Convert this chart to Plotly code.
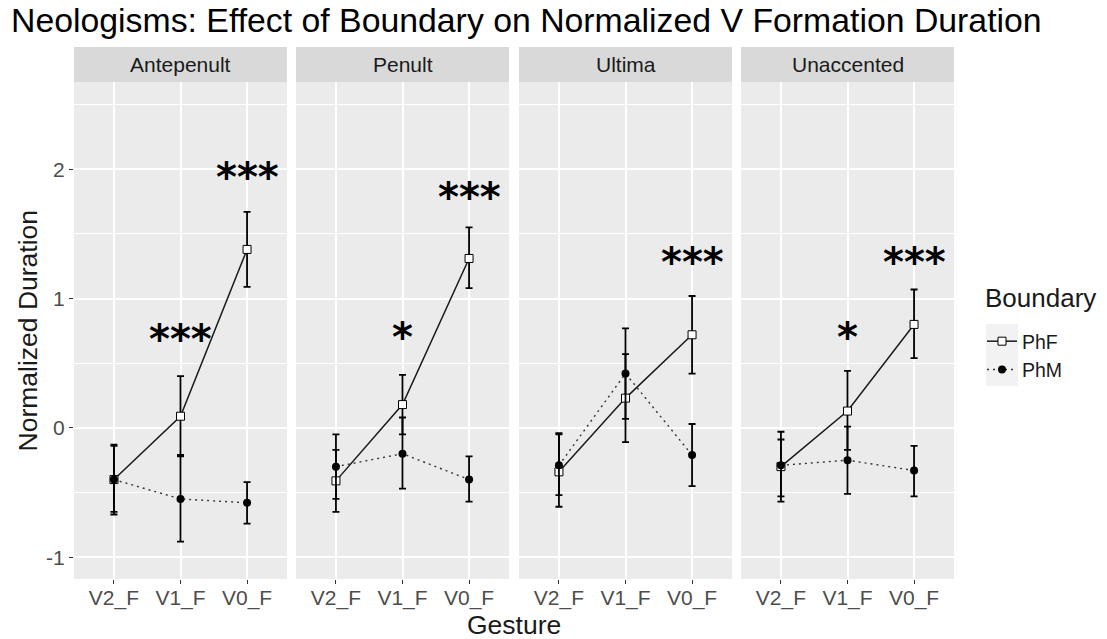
import plotly.graph_objects as go

categories = ["V2_F", "V1_F", "V0_F"]
panels = ["Antepenult", "Penult", "Ultima", "Unaccented"]

phf_mean = {
    "Antepenult": [-0.40, 0.09, 1.38],
    "Penult": [-0.41, 0.18, 1.31],
    "Ultima": [-0.34, 0.23, 0.72],
    "Unaccented": [-0.30, 0.13, 0.80],
}
phf_upper = {
    "Antepenult": [-0.13, 0.40, 1.67],
    "Penult": [-0.17, 0.41, 1.55],
    "Ultima": [-0.05, 0.57, 1.02],
    "Unaccented": [-0.03, 0.44, 1.07],
}
phf_lower = {
    "Antepenult": [-0.67, -0.21, 1.09],
    "Penult": [-0.65, -0.05, 1.08],
    "Ultima": [-0.61, -0.11, 0.42],
    "Unaccented": [-0.57, -0.17, 0.54],
}
phm_mean = {
    "Antepenult": [-0.40, -0.55, -0.58],
    "Penult": [-0.30, -0.20, -0.40],
    "Ultima": [-0.29, 0.42, -0.21],
    "Unaccented": [-0.29, -0.25, -0.33],
}
phm_upper = {
    "Antepenult": [-0.14, -0.22, -0.42],
    "Penult": [-0.05, 0.08, -0.22],
    "Ultima": [-0.04, 0.77, 0.03],
    "Unaccented": [-0.09, 0.01, -0.14],
}
phm_lower = {
    "Antepenult": [-0.65, -0.88, -0.74],
    "Penult": [-0.55, -0.47, -0.57],
    "Ultima": [-0.52, 0.07, -0.45],
    "Unaccented": [-0.53, -0.51, -0.53],
}
# significance labels: (panel, category, label, y)
stars = [
    ("Antepenult", "V1_F", "***", 0.73),
    ("Antepenult", "V0_F", "***", 1.99),
    ("Penult", "V1_F", "*", 0.75),
    ("Penult", "V0_F", "***", 1.83),
    ("Ultima", "V0_F", "***", 1.33),
    ("Unaccented", "V1_F", "*", 0.75),
    ("Unaccented", "V0_F", "***", 1.33),
]
y_ticks = [-1, 0, 1, 2]

FONT = "Liberation Sans, Arial, Helvetica, sans-serif"
STAR_FONT = "DejaVu Sans, Liberation Sans, sans-serif"
W, H = 1107, 639
ML, MR, MT, MB = 74, 153, 47, 60
PW = W - ML - MR
PH = H - MT - MB
panel_px = [(74, 287), (296, 509), (519, 732), (741, 954)]
panel_bottom_px, panel_top_px = 579, 82


def px_x(x):
    return (x - ML) / PW


def px_y(y):
    return (H - MB - y) / PH


fig = go.Figure()


def diff(a, b):
    return [round(x - y, 4) for x, y in zip(a, b)]


for i, p in enumerate(panels):
    xa = "x" if i == 0 else f"x{i+1}"
    ya = "y" if i == 0 else f"y{i+1}"
    fig.add_trace(go.Scatter(
        x=categories, y=phf_mean[p], xaxis=xa, yaxis=ya,
        mode="lines+markers", name="PhF", legendgroup="PhF",
        showlegend=(i == 0),
        line=dict(color="#1a1a1a", width=1.5, dash="solid"),
        marker=dict(symbol="square", size=8, color="white",
                    line=dict(color="black", width=1)),
        error_y=dict(type="data", symmetric=False,
                     array=diff(phf_upper[p], phf_mean[p]),
                     arrayminus=diff(phf_mean[p], phf_lower[p]),
                     color="black", thickness=1.8, width=3.5),
    ))
    fig.add_trace(go.Scatter(
        x=categories, y=phm_mean[p], xaxis=xa, yaxis=ya,
        mode="lines+markers", name="PhM", legendgroup="PhM",
        showlegend=(i == 0),
        line=dict(color="#333333", width=1.4, dash="2px,4px"),
        marker=dict(symbol="circle", size=8, color="black"),
        error_y=dict(type="data", symmetric=False,
                     array=diff(phm_upper[p], phm_mean[p]),
                     arrayminus=diff(phm_mean[p], phm_lower[p]),
                     color="black", thickness=1.8, width=3.5),
    ))

layout = dict(
    width=W, height=H,
    margin=dict(l=ML, r=MR, t=MT, b=MB, pad=0),
    paper_bgcolor="white", plot_bgcolor="#ebebeb",
    font=dict(family=FONT, color="#1a1a1a"),
    showlegend=True,
    legend=dict(
        font=dict(size=19.5, color="#1a1a1a"),
        x=px_x(982), y=px_y(322), xanchor="left", yanchor="top",
        bgcolor="rgba(0,0,0,0)", itemwidth=30, tracegroupgap=0,
    ),
    title=dict(
        text="Neologisms: Effect of Boundary on Normalized V Formation Duration",
        font=dict(size=33.8, color="black", family=FONT),
        x=11 / W, xanchor="left", xref="container",
        y=1 - 20 / H, yanchor="middle", yref="container",
    ),
)

shapes = []
annotations = []
for i, p in enumerate(panels):
    x0, x1 = panel_px[i]
    xk = "xaxis" if i == 0 else f"xaxis{i+1}"
    yk = "yaxis" if i == 0 else f"yaxis{i+1}"
    layout[xk] = dict(
        domain=[px_x(x0), px_x(x1)], type="category",
        categoryorder="array", categoryarray=categories,
        range=[-0.6, 2.6], anchor="y" if i == 0 else f"y{i+1}",
        showgrid=True, gridcolor="white", gridwidth=2,
        zeroline=False, showline=False,
        ticks="outside", ticklen=4, tickwidth=1.2, tickcolor="#333333",
        ticklabelstandoff=-4,
        tickfont=dict(size=21, color="#4d4d4d", family=FONT),
        fixedrange=True,
    )
    layout[yk] = dict(
        domain=[0, px_y(panel_top_px)], range=[-1.169, 2.675],
        anchor="x" if i == 0 else f"x{i+1}",
        tickvals=y_ticks, ticktext=[str(v) for v in y_ticks],
        showticklabels=(i == 0),
        ticks="outside" if i == 0 else "", ticklen=4, tickwidth=1.2,
        tickcolor="#333333",
        tickfont=dict(size=21, color="#4d4d4d", family=FONT),
        showgrid=True, gridcolor="white", gridwidth=2,
        minor=dict(dtick=0.5, tick0=0, showgrid=True, gridcolor="white",
                   gridwidth=1, ticks=""),
        zeroline=False, showline=False, fixedrange=True,
    )
    if i > 0:
        layout[yk]["matches"] = "y"
    # strip
    shapes.append(dict(type="rect", xref="paper", yref="paper",
                       x0=px_x(x0), x1=px_x(x1), y0=px_y(panel_top_px),
                       y1=px_y(47), fillcolor="#d9d9d9", line=dict(width=0),
                       layer="below"))
    annotations.append(dict(text=p, xref="paper", yref="paper",
                            x=(px_x(x0) + px_x(x1)) / 2, y=px_y(64.5),
                            xanchor="center", yanchor="middle", showarrow=False,
                            font=dict(size=21, color="#1a1a1a", family=FONT)))

for p, c, lab, yv in stars:
    i = panels.index(p)
    annotations.append(dict(
        text="<b>" + lab + "</b>", x=c, y=yv,
        xref="x" if i == 0 else f"x{i+1}",
        yref="y" if i == 0 else f"y{i+1}",
        showarrow=False, xanchor="center", yanchor="middle", yshift=-6,
        font=dict(size=40, color="black", family=STAR_FONT)))

# axis titles
annotations.append(dict(text="Gesture", xref="paper", yref="paper",
                        x=0.5, y=px_y(625), xanchor="center", yanchor="middle",
                        showarrow=False,
                        font=dict(size=26.5, color="#1a1a1a", family=FONT)))
annotations.append(dict(text="Normalized Duration", xref="paper", yref="paper",
                        x=px_x(27), y=px_y(330.5), xanchor="center",
                        yanchor="middle", textangle=-90, showarrow=False,
                        font=dict(size=26.5, color="#1a1a1a", family=FONT)))
# legend title
annotations.append(dict(text="Boundary", xref="paper", yref="paper",
                        x=px_x(983), y=px_y(298), xanchor="left",
                        yanchor="middle", showarrow=False,
                        font=dict(size=26, color="#1a1a1a", family=FONT)))

# legend key background
shapes.append(dict(type="rect", xref="paper", yref="paper",
                   x0=px_x(986), x1=px_x(1018), y0=px_y(386), y1=px_y(324),
                   fillcolor="#f2f2f2", line=dict(width=0), layer="below"))

layout["shapes"] = shapes
layout["annotations"] = annotations
fig.update_layout(**layout)
fig.write_html("out.html")
